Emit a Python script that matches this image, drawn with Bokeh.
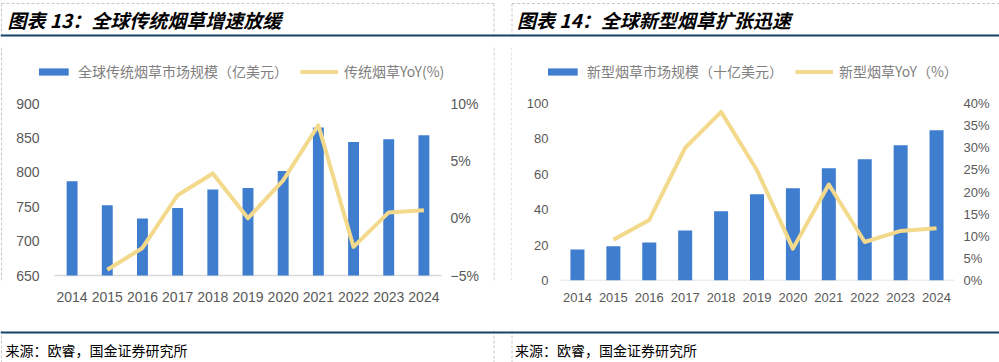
from bokeh.plotting import figure
from bokeh.models import Range1d, LinearAxis, FixedTicker, Legend, LegendItem, ColumnDataSource
from bokeh.layouts import column, row
from bokeh.embed import file_html
from bokeh.resources import INLINE
from bokeh.core.properties import value

# ---------------- data ----------------
years = ["2014", "2015", "2016", "2017", "2018", "2019", "2020", "2021", "2022", "2023", "2024"]

trad_size = [787, 752, 733, 748, 775, 777, 802, 865, 844, 848, 854]          # 亿美元
trad_yoy = [-4.5, -2.6, 2.0, 3.9, 0.0, 3.3, 8.1, -2.5, 0.5, 0.7]             # % (2015-2024)

new_size = [17.5, 19.4, 21.5, 28.3, 39.1, 48.7, 52.1, 63.4, 68.5, 76.4, 84.9]  # 十亿美元
new_yoy = [9.2, 13.7, 30.0, 38.1, 24.9, 7.2, 21.7, 8.7, 11.2, 11.8]            # % (2015-2024)

left_ticks = [650, 700, 750, 800, 850, 900]
left_yoy_ticks = [-5, 0, 5, 10]
left_yoy_labels = ["\u22125%", "0%", "5%", "10%"]
right_ticks = [0, 20, 40, 60, 80, 100]
right_yoy_ticks = [0, 5, 10, 15, 20, 25, 30, 35, 40]
right_yoy_labels = ["0%", "5%", "10%", "15%", "20%", "25%", "30%", "35%", "40%"]

title_left = "图表 13：全球传统烟草增速放缓"
title_right = "图表 14：全球新型烟草扩张迅速"
legend_left = ["全球传统烟草市场规模（亿美元）", "传统烟草YoY(%)"]
legend_right = ["新型烟草市场规模（十亿美元）", "新型烟草YoY（%）"]
source_text = "来源：欧睿，国金证券研究所"

# ---------------- styles ----------------
BAR = "#3F7DCF"
LINE = "#F3D98B"
NAVY = "#114468"
DASH = "#C8C8C8"
TXT = "#595959"
CJK = "Noto Sans CJK SC"
NUM = "Liberation Sans"

W = 999
SL, LW, GAP, RW = 2, 491, 19, 487
ROW_H = 293
HEAD_H = 37
FOOT_H = 32
FRAME_TOP, FRAME_BOTTOM = 10, 243   # shared by both charts (row aligns frames)


def deco_fig(w, h):
    f = figure(width=w, height=h, x_range=Range1d(0, w), y_range=Range1d(h, 0),
               output_backend="svg", toolbar_location=None, min_border=0)
    f.axis.visible = False
    f.grid.visible = False
    f.outline_line_color = None
    f.background_fill_color = "white"
    f.border_fill_color = "white"
    return f


def span_range(base_val, top_val, base_px, top_px):
    ppu = (base_px - top_px) / (top_val - base_val)
    return Range1d(base_val - (FRAME_BOTTOM - base_px) / ppu,
                   base_val + (base_px - FRAME_TOP) / ppu)


def chart(width, size, yoy, ticks, yoy_ticks, yoy_labels, base_px, top_px,
          bar_w, frame_left, cat_left, cat_right, frame_right, font, leg_labels,
          std_x, std_r):
    n = len(years)
    idx = list(range(n))
    cat_px = (cat_right - cat_left) / n
    x_start = -0.5 - (cat_left - frame_left) / cat_px
    x_end = n - 0.5 + (frame_right - cat_right) / cat_px
    p = figure(width=width, height=ROW_H,
               x_range=Range1d(x_start, x_end),
               y_range=span_range(ticks[0], ticks[-1], base_px, top_px),
               output_backend="svg", toolbar_location=None,
               min_border_left=frame_left, min_border_right=width - frame_right,
               min_border_top=FRAME_TOP, min_border_bottom=ROW_H - FRAME_BOTTOM,
               x_axis_location=None, y_axis_location=None)
    p.extra_y_ranges = {"yoy": span_range(yoy_ticks[0], yoy_ticks[-1], base_px, top_px)}
    p.grid.visible = False
    p.outline_line_color = None
    p.background_fill_color = "white"
    p.border_fill_color = "white"

    y_lo = ticks[0]
    src = ColumnDataSource(dict(x=idx, v=size))
    lsrc = ColumnDataSource(dict(x=idx[1:], v=yoy))
    # category baseline (axis line)
    p.segment(x0=[-0.5], y0=[y_lo], x1=[n - 0.5], y1=[y_lo], line_color="#D9D9D9", line_width=1.5)
    bars = p.vbar(x="x", top="v", bottom=y_lo, width=bar_w, source=src,
                  fill_color=BAR, line_color=None)
    ln = p.line(x="x", y="v", source=lsrc, y_range_name="yoy", line_color=LINE,
                line_width=4, line_join="round")

    common = dict(axis_line_color=None, major_tick_line_color=None, minor_tick_line_color=None,
                  major_tick_out=0, major_tick_in=0, minor_tick_out=0, minor_tick_in=0,
                  major_label_text_font=NUM, major_label_text_font_size=font,
                  major_label_text_color=TXT)
    xa = LinearAxis(ticker=FixedTicker(ticks=idx), major_label_standoff=std_x,
                    major_label_overrides={i: y for i, y in zip(idx, years)}, **common)
    p.add_layout(xa, "below")
    ya = LinearAxis(ticker=FixedTicker(ticks=ticks), major_label_standoff=0, **common)
    p.add_layout(ya, "left")
    ya2 = LinearAxis(y_range_name="yoy", ticker=FixedTicker(ticks=yoy_ticks),
                     major_label_standoff=std_r,
                     major_label_overrides={t: l for t, l in zip(yoy_ticks, yoy_labels)},
                     **common)
    p.add_layout(ya2, "right")

    leg = Legend(items=[LegendItem(label=leg_labels[0], renderers=[bars]),
                        LegendItem(label=leg_labels[1], renderers=[ln])],
                 location=(-5, FRAME_BOTTOM - 44), orientation="horizontal",
                 glyph_width=38, glyph_height=9, label_standoff=6, spacing=12,
                 padding=0, margin=0, border_line_color=None, background_fill_alpha=0,
                 label_text_font=CJK, label_text_font_size="14px",
                 label_text_color="#808080", label_height=20)
    p.add_layout(leg, "center")
    return p


# left panel: 650 at local y 238, 900 at local y 66
left = chart(LW, trad_size, trad_yoy, left_ticks, left_yoy_ticks, left_yoy_labels,
             238, 66, 0.31, 37, 52, 439, 455, "14px", legend_left, 11, -7)
# right panel: 0 at local y 243, 100 at local y 66
right = chart(RW, new_size, new_yoy, right_ticks, right_yoy_ticks, right_yoy_labels,
              243, 66, 0.39, 36, 47, 442, 453, "13px", legend_right, 12, -2)

# spacers with dashed panel borders
sp_l = deco_fig(SL, ROW_H)
sp_l.segment(x0=[1], y0=[0], x1=[1], y1=[ROW_H], line_color=DASH, line_dash="3 2", line_width=1)
gap = deco_fig(GAP, ROW_H)
gap.segment(x0=[0.5, GAP - 0.5], y0=[0, 0], x1=[0.5, GAP - 0.5], y1=[ROW_H, ROW_H],
            line_color=DASH, line_dash="3 2", line_width=1)

# header
xl0, xl1 = 1, SL + LW + 0.5
xr0 = SL + LW + GAP - 0.5
head = deco_fig(W, HEAD_H)
head.segment(x0=[xl0, xl1, xr0, xl0, xr0], y0=[3, 3, 3, 3, 3],
             x1=[xl0, xl1, xr0, xl1, W], y1=[HEAD_H, HEAD_H, HEAD_H, 3, 3],
             line_color=DASH, line_dash="3 2", line_width=1)
head.segment(x0=[0], y0=[35], x1=[W], y1=[35], line_color=NAVY, line_width=2)
head.text(x=[7, xr0 + 5], y=[19, 19], text=[title_left, title_right],
          text_font=value(CJK), text_font_size="19px", text_font_style="bold italic",
          text_color="black", text_baseline="middle", text_align="left")

# footer
foot = deco_fig(W, FOOT_H)
foot.segment(x0=[xl0, xl1, xr0], y0=[0, 0, 0], x1=[xl0, xl1, xr0], y1=[FOOT_H, FOOT_H, FOOT_H],
             line_color=DASH, line_dash="3 2", line_width=1)
foot.segment(x0=[0], y0=[2], x1=[W], y1=[2], line_color=NAVY, line_width=2)
foot.text(x=[5, xr0 + 3], y=[19, 19], text=[source_text, source_text],
          text_font=value(CJK), text_font_size="14px", text_color="black",
          text_baseline="middle", text_align="left")

layout = column(head, row(sp_l, left, gap, right, spacing=0), foot, spacing=0)

open("out.html", "w").write(file_html(layout, INLINE))
